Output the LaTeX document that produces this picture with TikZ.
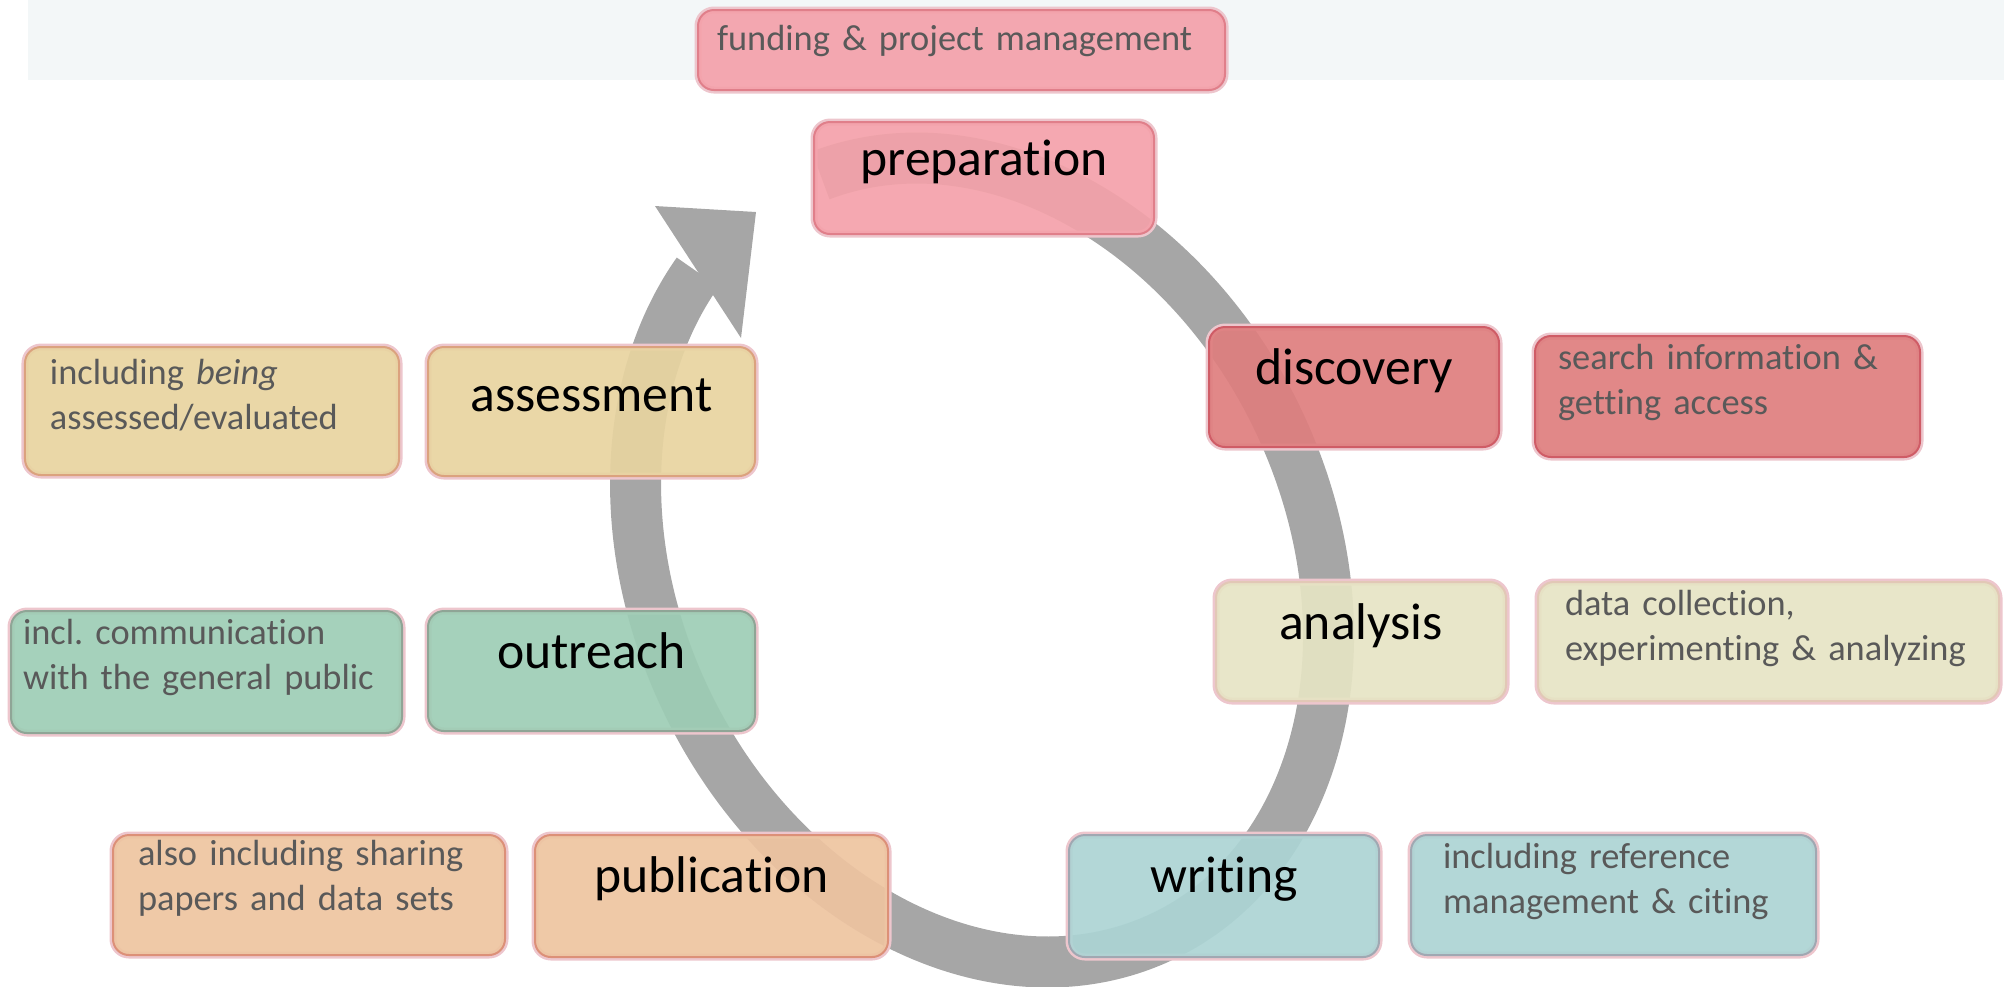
\documentclass[tikz,border=0pt]{standalone}
\usepackage{fontspec}
\setmainfont{Carlito}[Ligatures={NoCommon,NoContextual}]
\usetikzlibrary{positioning}
\frenchspacing

\definecolor{bandbg}{HTML}{F3F7F8}
\definecolor{cyclegray}{HTML}{A6A6A6}
\definecolor{halo}{HTML}{EDC6CD}
\definecolor{notegray}{HTML}{595959}
\definecolor{prepfill}{HTML}{F4A1AA}
\definecolor{prepline}{HTML}{E07F8A}
\definecolor{discfill}{HTML}{DE7E7E}
\definecolor{discline}{HTML}{CF5C66}
\definecolor{analfill}{HTML}{E6E4C4}
\definecolor{analline}{HTML}{E2C8B6}
\definecolor{writfill}{HTML}{ACD4D4}
\definecolor{writline}{HTML}{A0A8B2}
\definecolor{publfill}{HTML}{EEC4A0}
\definecolor{publline}{HTML}{DC9078}
\definecolor{outrfill}{HTML}{9DCDB5}
\definecolor{outrline}{HTML}{8FA596}
\definecolor{assefill}{HTML}{E8D4A0}
\definecolor{asseline}{HTML}{DBA27E}

\newcommand{\stagefont}{\fontsize{14.7}{17.6}\selectfont}
\newcommand{\notefont}{\fontsize{10.35}{12.8}\selectfont}

\tikzset{
  box/.style = {rounded corners=0.16cm, fill opacity=0.92, text opacity=1, inner ysep=0pt,
    line width=0.02cm, preaction={draw=halo, line width=0.07cm}},
  phase/.style = {fill=#1fill, draw=#1line},
  stage/.style = {box, font=\stagefont, inner xsep=0pt, text height=0.57cm, text depth=0.63cm},
  note/.style 2 args = {box, font=\notefont, text=notegray, align=left, text width=#1, inner xsep=#2,
    text height=0.33cm, text depth=0.88cm},
  cyclearc/.style = {draw=cyclegray, line width=0.51cm},
}

\begin{document}
\begin{tikzpicture}
  \useasboundingbox (0,0) rectangle (20.04,-9.86);
  \fill[bandbg] (0.28,0) rectangle (20.04,-0.80);

  \begin{scope}[shift={(9.82,-5.60)}, rotate=25.9]
    \draw[cyclearc] (86:3.275 and 4.175) arc[start angle=86, end angle=-246.6, x radius=3.275, y radius=4.175];
  \end{scope}
  \fill[cyclegray] (6.55,-2.06) -- (7.56,-2.12) -- (7.41,-3.38) -- cycle;

  \node [stage, phase=prep, minimum width=3.40cm, anchor=north west, text height=0.53cm, text depth=0.59cm] (prep) at (8.13,-1.21) {preparation};
  \node [stage, phase=disc, minimum width=2.90cm, anchor=north west] (disc) at (12.08,-3.26) {discovery};
  \node [stage, phase=anal, minimum width=2.90cm, anchor=north west, text depth=0.62cm] (anal) at (12.15,-5.81) {analysis};
  \node [stage, phase=writ, minimum width=3.10cm, anchor=north west, text depth=0.65cm] (writ) at (10.68,-8.34) {writing};
  \node [stage, phase=publ, minimum width=3.53cm, anchor=north west, text depth=0.65cm] (publ) at (5.34,-8.34) {publication};
  \node [stage, phase=outr, minimum width=3.27cm, anchor=north west] (outr) at (4.27,-6.10) {outreach};
  \node [stage, phase=asse, minimum width=3.27cm, anchor=north west, text height=0.64cm, text depth=0.65cm] (asse) at (4.27,-3.46) {assessment};

  \node [note={4.89cm}{0.19cm}, phase=prep, anchor=north west, text height=0.40cm, text depth=0.40cm] (fund) at (6.97,-0.09) {funding \& project management};
  \node [note={3.39cm}{0.23cm}, phase=disc, below right=0.09cm and 0.34cm of disc.north east] (srch) {search information \&\\getting access};
  \node [note={4.07cm}{0.27cm}, phase=anal, below right=0cm and 0.30cm of anal.north east, text depth=0.86cm] (data) {data collection,\\experimenting \& analyzing};
  \node [note={3.41cm}{0.32cm}, phase=writ, below right=0cm and 0.30cm of writ.north east, text depth=0.87cm] (refr) {including reference\\management \& citing};
  \node [note={3.42cm}{0.25cm}, phase=publ, below left=0cm and 0.28cm of publ.north west, text height=0.30cm, text depth=0.90cm] (also) {also including sharing\\papers and data sets};
  \node [note={3.67cm}{0.12cm}, phase=outr, below left=0cm and 0.24cm of outr.north west, text depth=0.89cm] (comm) {incl. communication\\with the general public};
  \node [note={3.24cm}{0.25cm}, phase=asse, below left=0cm and 0.27cm of asse.north west, text height=0.37cm, text depth=0.91cm] (bein) {including \emph{being}\\assessed/evaluated};
\end{tikzpicture}
\end{document}
